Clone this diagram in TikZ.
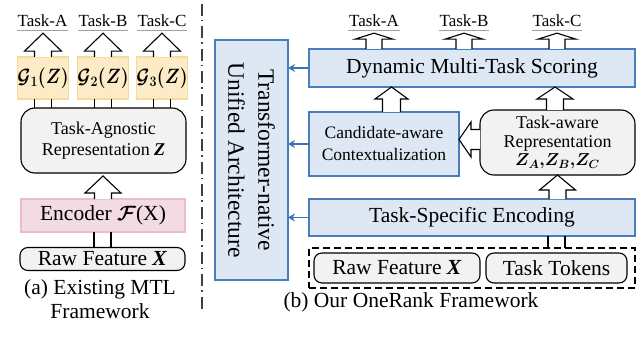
\documentclass[tikz,border=0pt]{standalone}
\usepackage{fontspec}
\setmainfont{Liberation Serif}
\usepackage{bm}
\usetikzlibrary{calc,arrows.meta}
\definecolor{bfill}{HTML}{DEE8F5}
\definecolor{bline}{HTML}{4A7EBB}
\definecolor{barrow}{HTML}{3B73B9}
\definecolor{gfill}{HTML}{F2F2F2}
\definecolor{yfill}{HTML}{FCEBC6}
\definecolor{yline}{HTML}{F6DC9A}
\definecolor{pfill}{HTML}{F2DCE2}
\definecolor{pline}{HTML}{E8BFC8}
\definecolor{ulinec}{HTML}{A0A0A0}
\tikzset{
  every node/.style={inner sep=0pt, outer sep=0pt},
  bigf/.style={font=\fontsize{21.5}{24}\selectfont},
  midf/.style={font=\fontsize{18}{21}\selectfont},
  taskf/.style={font=\fontsize{17}{19}\selectfont},
  bluebox/.style={draw=bline, fill=bfill, line width=1.3pt},
  graybox/.style={draw=black, fill=gfill, line width=1.1pt, rounded corners=#1},
  graybox/.default=14pt,
  gbox/.style={draw=yline, fill=yfill, line width=1.2pt, minimum width=48pt, minimum height=42pt},
  encbox/.style={draw=pline, fill=pfill, line width=1.2pt},
  blk/.style={draw=black, fill=white, line width=1.1pt, line join=miter},
  shaft/.style={draw=black, line width=1.1pt},
  bluearrow/.style={draw=barrow, line width=1.3pt, -{Stealth[length=7pt,width=8pt]}},
  ulinestyle/.style={draw=ulinec, line width=1.3pt},
}
% upward block arrow: #1 start (bottom, gives x), #2 tip (gives y), #3 shaft half, #4 head half, #5 head length
\newcommand\blkup[5]{%
  \draw[blk] let \p1=#1, \p2=#2 in
    (\x1-#3pt,\y1) -- (\x1-#3pt,\y2-#5pt) -- (\x1-#4pt,\y2-#5pt) -- (\x1,\y2)
    -- (\x1+#4pt,\y2-#5pt) -- (\x1+#3pt,\y2-#5pt) -- (\x1+#3pt,\y1);}
% open shaft between two boxes: #1 start (gives x), #2 end (gives y), #3 half width
\newcommand\blkshaft[3]{%
  \draw[shaft] let \p1=#1, \p2=#2 in
    (\x1-#3pt,\y1) -- (\x1-#3pt,\y2) (\x1+#3pt,\y1) -- (\x1+#3pt,\y2);}
\newcommand\gtext[1]{\scalebox{0.86}[1]{$\bm{\mathcal{G}_{#1}(Z)}$}}
\begin{document}
\begin{tikzpicture}[x=1pt,y=-1pt]
\useasboundingbox (0,0) rectangle (638,337);

% ---------- left panel ----------
\node[taskf, anchor=base] (la) at (42.5,27) {Task-A};
\node[taskf, anchor=base] (lb) at (103,27) {Task-B};
\node[taskf, anchor=base] (lc) at (162,27) {Task-C};
\foreach \n in {la,lb,lc}{
  \draw[ulinestyle] ($(\n.south west)+(-1,3)$) -- ($(\n.south east)+(1,3)$);}

\node[gbox, font=\fontsize{20.5}{23}\selectfont] (g1) at (43,78) {\gtext{1}};
\node[gbox, font=\fontsize{20.5}{23}\selectfont] (g2) at (103,78) {\gtext{2}};
\node[gbox, font=\fontsize{20.5}{23}\selectfont] (g3) at (162,78) {\gtext{3}};

\node[graybox, midf, align=center, minimum width=165pt, minimum height=65pt] (agn) at (103.5,140.5)
  {Task-Agnostic\\Representation \textbf{\textit{Z}}};
\node[encbox, bigf, minimum width=164pt, minimum height=33pt] (enc) at (103,215.5)
  {Encoder $\bm{\mathcal{F}}$(X)};
\node[graybox=8pt, bigf, minimum width=165pt, minimum height=23pt] (rawl) at (102.5,259)
  {Raw Feature \textbf{\textit{X}}};
\node[bigf, align=center] (capa) at (100,299) {(a) Existing MTL\\Framework};

\blkup{(g1.north)}{($(la.south)+(0,6)$)}{8.5}{18.5}{18}
\blkup{(g2.north)}{($(lb.south)+(0,6)$)}{8.5}{18.5}{18}
\blkup{(g3.north)}{($(lc.south)+(0,6)$)}{8.5}{18.5}{18}
\blkshaft{(agn.north -| g1.south)}{(g1.south)}{8.5}
\blkshaft{(agn.north -| g2.south)}{(g2.south)}{8.5}
\blkshaft{(agn.north -| g3.south)}{(g3.south)}{8.5}
\blkup{(enc.north)}{($(agn.south)+(0,3)$)}{8.5}{18}{17}
\blkshaft{(rawl.north)}{(enc.south)}{8.5}

% divider
\draw[line width=1.2pt, black!75, dash pattern=on 12pt off 4pt on 1.5pt off 5pt] (202,4) -- (202,312);

% ---------- right panel ----------
\node[bluebox, minimum width=73pt, minimum height=240pt] (trans) at (251.5,160) {};
\node[rotate=-90, align=center, font=\fontsize{23.5}{30}\selectfont] (transtxt) at (trans.center)
  {Transformer-native\\Unified Architecture};

\node[bluebox, bigf, minimum width=326pt, minimum height=38pt] (dyn) at (472,68) {Dynamic Multi-Task Scoring};
\node[bluebox, align=center, minimum width=150pt, minimum height=64pt, font=\fontsize{17.5}{22}\selectfont] (cand) at (384,144)
  {Candidate-aware\\Contextualization};
\node[graybox, align=center, minimum width=155pt, minimum height=65pt, font=\fontsize{18}{18.5}\selectfont] (aware) at (557.5,142.5)
  {Task-aware\\Representation\\$\bm{Z_A{,}Z_B{,}Z_C}$};
\node[bluebox, bigf, minimum width=326pt, minimum height=37pt] (tse) at (472,217.5) {Task-Specific Encoding};
\node[draw=black, line width=1.2pt, dash pattern=on 7pt off 4pt, minimum width=326pt, minimum height=40pt] (dbox) at (472,268) {};
\node[graybox=8pt, bigf, minimum width=166pt, minimum height=30pt] (rawr) at (397,268) {Raw Feature \textbf{\textit{X}}};
\node[graybox=8pt, bigf, minimum width=141pt, minimum height=30pt] (tok) at (556.5,268) {Task Tokens};
\node[bigf] (capb) at (411,302) {(b) Our OneRank Framework};

\node[taskf, anchor=base] (ra) at (374,27) {Task-A};
\node[taskf, anchor=base] (rb) at (464,27) {Task-B};
\node[taskf, anchor=base] (rc) at (557,27) {Task-C};
\foreach \n in {ra,rb,rc}{
  \draw[ulinestyle] ($(\n.south west)+(-1,3)$) -- ($(\n.south east)+(1,3)$);}

\blkup{(ra.south |- dyn.north)}{($(ra.south)+(0,6)$)}{8}{19}{6}
\blkup{(rb.south |- dyn.north)}{($(rb.south)+(0,6)$)}{8}{19}{6}
\blkup{(rc.south |- dyn.north)}{($(rc.south)+(0,6)$)}{8}{19}{6}
\blkup{($(cand.north)+(7.5,0)$)}{(dyn.south)}{9}{16.5}{12}
\blkup{($(aware.north)+(-2.5,0)$)}{(dyn.south)}{8.5}{18}{12}
\blkup{(aware.south |- tse.north)}{(aware.south)}{8.5}{18}{15}
\blkshaft{(tok.north |- dbox.north)}{(tse.south)}{8.5}
% left-pointing block arrow aware -> cand
\draw[blk] let \p1=($(aware.west)+(0,-3)$), \p2=(cand.east) in
  (\x1,\y1+10pt) -- (\x2+12pt,\y1+10pt) -- (\x2+12pt,\y1+17.5pt) -- (\x2,\y1)
  -- (\x2+12pt,\y1-17.5pt) -- (\x2+12pt,\y1-10pt) -- (\x1,\y1-10pt);

\draw[bluearrow] (dyn.west) -- (dyn.west -| trans.east);
\draw[bluearrow] (cand.west) -- (cand.west -| trans.east);
\draw[bluearrow] (tse.west) -- (tse.west -| trans.east);
\end{tikzpicture}
\end{document}
